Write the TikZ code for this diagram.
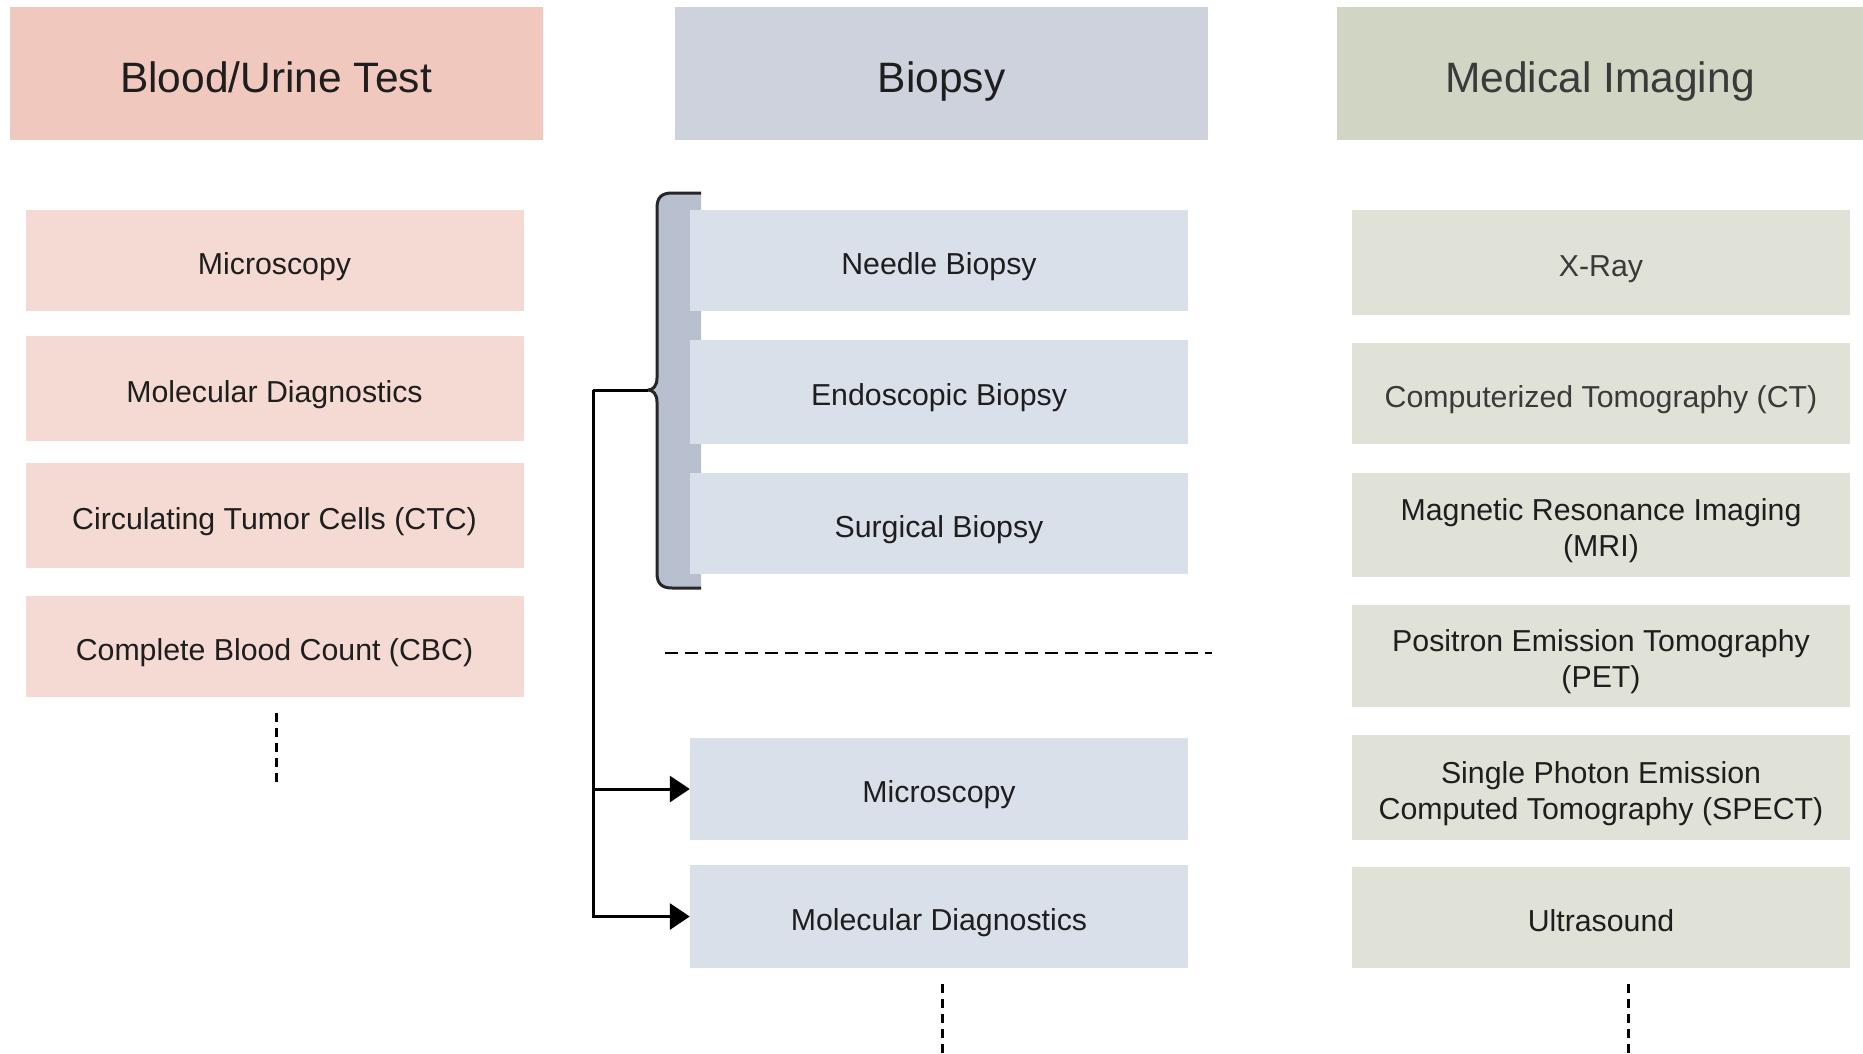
\documentclass[tikz,border=0pt]{standalone}
\usepackage{fontspec}
\setmainfont{Liberation Sans}
\usetikzlibrary{arrows.meta}
\definecolor{hA}{HTML}{F0C8BE}
\definecolor{bA}{HTML}{F4DAD2}
\definecolor{hB}{HTML}{CDD2DD}
\definecolor{bB}{HTML}{DAE0EA}
\definecolor{hC}{HTML}{D1D5C3}
\definecolor{bC}{HTML}{E0E2D8}
\definecolor{brc}{HTML}{B8BFCF}
\definecolor{ink}{HTML}{1E1E1E}
\definecolor{inkg}{HTML}{3A3A3A}
\newcommand{\itemstrut}{\rule[-6.5pt]{0pt}{40.5pt}}
\newcommand{\topstrut}{\rule{0pt}{34pt}}
\newcommand{\botstrut}{\rule[-7pt]{0pt}{7pt}}
\newcommand{\hdrstrut}{\rule[-9pt]{0pt}{55pt}}
\begin{document}
\begin{tikzpicture}[x=1pt,y=-1pt,
  hdr/.style={rectangle, inner sep=0pt, minimum height=133pt, font=\fontsize{42.5}{50}\selectfont, text=ink,
    execute at begin node={\hdrstrut}},
  item/.style={rectangle, inner sep=0pt, minimum width=498pt, align=center, font=\fontsize{30.3}{36}\selectfont, text=ink,
    execute at begin node={\itemstrut}, execute at end node={\itemstrut}},
  item2/.style={rectangle, inner sep=0pt, minimum width=498pt, align=center, font=\fontsize{30.3}{36}\selectfont, text=ink},
  conn/.style={draw=black, line width=3pt},
  arr/.style={conn, -{Triangle[length=20pt,width=26pt]}},
  vdash/.style={draw=black, line width=3pt, dash pattern=on 9pt off 6pt},
  hdash/.style={draw=black, line width=2.5pt, dash pattern=on 13pt off 7pt},
  brline/.style={draw=black!85, line width=3pt, line join=round}
]
\useasboundingbox (0,0) rectangle (1863,1053);
\fill[white] (0,0) rectangle (1863,1053);

% headers
\node[hdr, fill=hA, minimum width=533pt] (hA) at (276,73.5) {Blood/Urine Test};
\node[hdr, fill=hB, minimum width=533pt] (hB) at (941.5,73.5) {Biopsy};
\node[hdr, fill=hC, minimum width=526pt, text=inkg] (hC) at (1600,73.5) {Medical Imaging};

% left column
\node[item, fill=bA, minimum height=101pt] (l1) at (274.5,260.5) {Microscopy};
\node[item, fill=bA, minimum height=105pt] (l2) at (274.5,388.5) {Molecular Diagnostics};
\node[item, fill=bA, minimum height=105pt] (l3) at (274.5,515.5) {Circulating Tumor Cells (CTC)};
\node[item, fill=bA, minimum height=101pt] (l4) at (274.5,646.5) {Complete Blood Count (CBC)};
\coordinate (l4a) at (276,713);
\coordinate (l4b) at (276,784);
\draw[vdash] (l4a) -- (l4b);

% brace behind middle boxes
\fill[brc] (701,193) -- (672,193) .. controls (661,193) and (657,198) .. (657,208)
  -- (657,378) .. controls (657,386) and (653,390) .. (648,390)
  .. controls (653,390) and (657,394) .. (657,402)
  -- (657,573) .. controls (657,583) and (661,588) .. (672,588) -- (701,588) -- cycle;
\draw[brline] (701,193) -- (672,193) .. controls (661,193) and (657,198) .. (657,208)
  -- (657,378) .. controls (657,386) and (653,390) .. (648,390)
  .. controls (653,390) and (657,394) .. (657,402)
  -- (657,573) .. controls (657,583) and (661,588) .. (672,588) -- (701,588);
\coordinate (nose) at (648,390);

% middle column
\node[item, fill=bB, minimum height=101pt] (m1) at (939,260.5) {Needle Biopsy};
\node[item, fill=bB, minimum height=104pt] (m2) at (939,392) {Endoscopic Biopsy};
\node[item, fill=bB, minimum height=101pt] (m3) at (939,523.5) {Surgical Biopsy};
\node[item, fill=bB, minimum height=102pt] (m4) at (939,789) {Microscopy};
\node[item, fill=bB, minimum height=103pt] (m5) at (939,916.5) {Molecular Diagnostics};

\coordinate (sepL) at (665,653);
\coordinate (sepR) at (1212,653);
\draw[hdash] (sepL) -- (sepR);

\coordinate (turn) at (593,390);
\draw[conn] (nose) -- (turn);
\draw[arr] (turn) |- (m4.west);
\draw[arr] (turn) |- (m5.west);

\coordinate (m5a) at (942,984);
\coordinate (m5b) at (942,1053);
\draw[vdash] (m5a) -- (m5b);

% right column
\node[item, fill=bC, minimum height=105pt, text=inkg] (r1) at (1601,262.5) {X-Ray};
\node[item, fill=bC, minimum height=101pt, text=inkg] (r2) at (1601,393.5) {Computerized Tomography (CT)};
\node[item2, fill=bC, minimum height=104pt] (r3) at (1601,525) {\topstrut Magnetic Resonance Imaging\\(MRI)\botstrut};
\node[item2, fill=bC, minimum height=102pt] (r4) at (1601,656) {\topstrut Positron Emission Tomography\\(PET)\botstrut};
\node[item2, fill=bC, minimum height=105pt] (r5) at (1601,787.5) {\topstrut Single Photon Emission\\Computed Tomography (SPECT)\botstrut};
\node[item, fill=bC, minimum height=101pt] (r6) at (1601,917.5) {Ultrasound};

\coordinate (r6a) at (1628,984);
\coordinate (r6b) at (1628,1053);
\draw[vdash] (r6a) -- (r6b);
\end{tikzpicture}
\end{document}
